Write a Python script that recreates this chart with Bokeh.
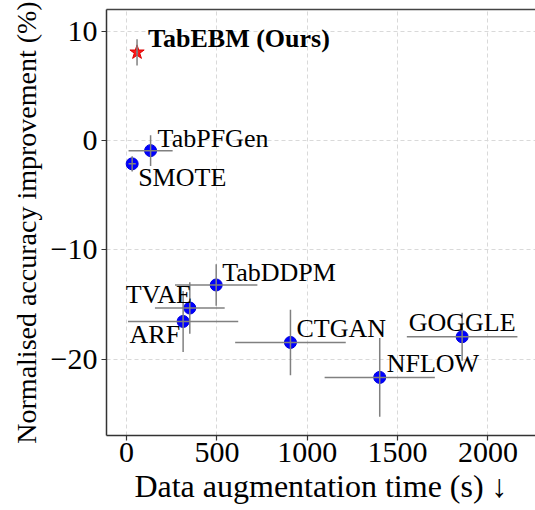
from bokeh.plotting import figure
from bokeh.models import ColumnDataSource, Range1d, LinearAxis, FixedTicker
from bokeh.core.properties import value
from bokeh.embed import file_html
from bokeh.resources import INLINE

# ---- data ----
methods = ["TabEBM (Ours)", "TabPFGen", "SMOTE", "TabDDPM", "TVAE", "ARF", "CTGAN", "NFLOW", "GOGGLE"]
time_s = [58, 133, 31, 496, 350, 313, 907, 1401, 1857]
time_err = [5, 122, 20, 228, 193, 305, 306, 305, 306]
acc_impr = [8.08, -0.92, -2.13, -13.22, -15.33, -16.56, -18.48, -21.68, -17.96]
acc_err = [1.2, 1.4, 0.7, 1.9, 2.35, 2.8, 3.0, 3.6, 2.2]

x_ticks = [0, 500, 1000, 1500, 2000]
y_ticks = [-20, -10, 0, 10]
y_tick_labels = ["\u221220", "\u221210", "0", "10"]

# ---- label styling (screen offsets) ----
label_dx = [11, 7, 6, 6, 2, -3, 6, 7, 0]
label_dy = [-14, -12, 14, -12, -14, 13, -14, -14, -14]
label_align = ["left", "left", "left", "left", "right", "right", "left", "left", "center"]

FONT = "Liberation Serif"

p = figure(width=535, height=510, output_backend="svg", toolbar_location=None,
           x_range=Range1d(-111, 2263), y_range=Range1d(-27, 12),
           min_border_left=106, min_border_right=0, min_border_top=9, min_border_bottom=75)
p.background_fill_color = "white"
p.border_fill_color = "white"
p.outline_line_color = None

# grid
for g in (p.xgrid, p.ygrid):
    g.grid_line_color = "#d9d9d9"
    g.grid_line_dash = "4 3"
    g.grid_line_width = 1
p.xgrid.ticker = FixedTicker(ticks=x_ticks)
p.ygrid.ticker = FixedTicker(ticks=y_ticks)

# axes
p.xaxis.ticker = FixedTicker(ticks=x_ticks)
p.yaxis.ticker = FixedTicker(ticks=y_ticks)
p.yaxis.major_label_overrides = {t: l for t, l in zip(y_ticks, y_tick_labels)}
for ax in (p.xaxis[0], p.yaxis[0]):
    ax.axis_line_color = "#333333"
    ax.axis_line_width = 1.5
    ax.major_tick_line_color = "#333333"
    ax.major_tick_line_width = 1.2
    ax.major_tick_out = 5
    ax.major_tick_in = 0
    ax.minor_tick_line_color = None
    ax.major_label_text_font = FONT
    ax.major_label_text_color = "black"
    ax.axis_label_text_font = FONT
    ax.axis_label_text_font_style = "normal"
    ax.axis_label_text_color = "black"
p.xaxis.major_label_text_font_size = "30px"
p.yaxis.major_label_text_font_size = "30px"
p.xaxis.axis_label = "Data augmentation time (s) \u2193"
p.yaxis.axis_label = "Normalised accuracy improvement (%)"
p.xaxis.axis_label_text_font_size = "32px"
p.yaxis.axis_label_text_font_size = "28px"
p.xaxis.major_label_standoff = 2
p.xaxis.axis_label_standoff = 3
p.yaxis.major_label_standoff = 4
p.yaxis.axis_label_standoff = 6

# top spine
top = LinearAxis(ticker=FixedTicker(ticks=[]), major_label_text_font_size="0px",
                 major_tick_line_color=None, minor_tick_line_color=None,
                 axis_line_color="#444444", axis_line_width=1.5)
p.add_layout(top, "above")

# data sources
n = len(methods)
src = ColumnDataSource(dict(
    method=methods, x=time_s, y=acc_impr,
    x0=[time_s[i] - time_err[i] for i in range(n)],
    x1=[time_s[i] + time_err[i] for i in range(n)],
    y0=[acc_impr[i] - acc_err[i] for i in range(n)],
    y1=[acc_impr[i] + acc_err[i] for i in range(n)],
    dx=label_dx, dy=label_dy, align=label_align,
))
ours = ColumnDataSource({k: v[:1] for k, v in src.data.items()})
others = ColumnDataSource({k: v[1:] for k, v in src.data.items()})

# markers
p.scatter("x", "y", source=others, marker="circle", size=12,
          fill_color="#0000ff", line_color="#0000dd", line_width=1)
p.scatter("x", "y", source=ours, marker="star", size=15,
          fill_color="#ff1a1a", line_color="#dd0000", line_width=1)

# error bars on top
p.segment("x0", "y", "x1", "y", source=src, line_color="#808080", line_width=1.5)
p.segment("x", "y0", "x", "y1", source=src, line_color="#808080", line_width=1.5)

# labels
p.text("x", "y", text="method", source=others, x_offset="dx", y_offset="dy",
       text_align="align", text_baseline="alphabetic",
       text_font=value(FONT), text_font_size="26px", text_color="black")
p.text("x", "y", text="method", source=ours, x_offset="dx", y_offset="dy",
       text_align="align", text_baseline="alphabetic",
       text_font=value(FONT), text_font_size="26px", text_font_style="bold",
       text_color="black")

open("out.html", "w").write(file_html(p, INLINE))
